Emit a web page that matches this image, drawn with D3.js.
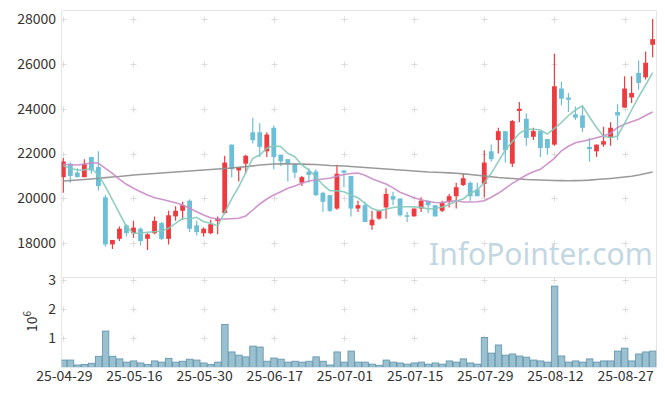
<!DOCTYPE html>
<html>
<head>
<meta charset="utf-8">
<script src="https://cdn.jsdelivr.net/npm/d3@7"></script>
<style>
  body { margin: 0; background: #fff; }
  svg { display: block; }
  .tick-label { font-family: "Noto Sans CJK KR", "Noto Sans", sans-serif; font-size: 14px; fill: #333; }
</style>
</head>
<body>
<div id="chart"></div>
<script>

// daily candles, index 0..84
var openP  = [20950,21550,21150,20950,21850,21400,20050,17950,18200,18800,
              18450,18650,18200,18450,18900,18200,19200,19450,19900,18800,
              18450,18450,19000,19350,22400,21250,21550,22950,22950,22100,
              23150,21950,21750,21550,20700,21200,21200,20250,20150,19550,
              21250,21000,19550,19700,18800,19100,19600,20100,20000,19250,
              19200,19550,19900,19700,19450,19850,20100,20600,20700,20400,
              20650,22100,22600,23000,21550,23900,23550,22750,23000,22650,
              22400,24900,24500,23750,23700,22300,22100,22400,22700,23850,
              24050,24500,25600,25400,26850];
var highP  = [21800,21600,21350,21750,21850,22100,20150,18150,18750,18850,
              19000,18700,18450,19200,18950,19450,19650,19850,19950,19000,
              18700,19050,19200,21900,22400,21400,21950,23600,23350,22950,
              23250,21950,21750,21550,21000,21350,21300,20300,20150,21500,
              21250,21000,19900,19850,19450,19500,20450,20300,20000,19400,
              19550,20050,19900,19700,19900,20200,20700,21100,20750,20700,
              22150,22400,23150,23000,23500,24300,23800,23150,23000,22650,
              26450,25200,24700,24100,24100,22700,22400,23200,23400,24200,
              25450,25450,26150,26550,28000];
var lowP   = [20250,20700,20950,20950,21100,20350,17850,17750,18100,18300,
              18250,17900,17700,18400,18150,17950,19000,19050,18500,18350,
              18300,18400,18400,19300,20950,20750,21100,22450,21850,21850,
              21300,21450,20750,20900,20550,20700,20100,19400,19400,19500,
              20500,19200,19400,18950,18600,19050,19100,19700,19200,18950,
              19200,19400,19350,19200,19400,19600,19550,20550,19900,20100,
              20050,21650,22000,21600,21400,23400,22350,22600,21850,21950,
              22350,24150,23850,23500,22950,21650,21850,22300,22350,22600,
              24050,24250,24850,25300,26300];
var closeP = [21650,21000,20950,21550,21250,20550,17950,18150,18650,18450,
              18700,18100,18400,19000,18200,19250,19450,19700,18650,18500,
              18650,18850,19100,21600,21300,21400,21900,22600,22300,22850,
              21850,21650,21550,21150,20950,21050,20150,19850,19450,21100,
              21150,19550,19700,18950,19050,19450,20200,19950,19250,19200,
              19550,19900,19700,19200,19800,20100,20500,20900,20100,20100,
              21600,21750,23000,22150,23450,24000,22700,23000,22250,22250,
              25000,24450,24400,23600,23150,22200,22400,22550,23150,23700,
              24900,24700,25150,26050,27100];

// moving average lines
var ma5  = [21460,21344,21269,21269,21344,21045,20523,19931,19338,18741,
            18447,18447,18491,18518,18549,18669,18892,19115,19084,19160,
            18964,18892,18772,19380,19980,20520,21150,21790,21937,22236,
            22352,22307,22013,21861,21491,21269,20970,20600,20346,20346,
            20301,20154,20030,19784,19552,19449,19521,19597,19632,19632,
            19625,19606,19530,19548,19619,19730,19886,19976,20230,20377,
            20702,21121,21638,22160,22530,22904,23083,23083,23052,22873,
            23127,23386,23698,23943,24130,23631,23163,22771,22717,22784,
            23350,23943,24523,25058,25606];
var ma20 = [21523,21505,21491,21523,21594,21567,21344,21121,20854,20631,
            20453,20301,20154,20034,19962,19886,19810,19708,19561,19410,
            19262,19142,19084,19084,19097,19115,19218,19485,19753,19976,
            20154,20301,20453,20556,20676,20778,20823,20867,20900,20990,
            21070,21110,21130,21030,20880,20760,20640,20470,20280,20150,
            20030,19940,19860,19820,19810,19870,19900,19842,19842,19855,
            19900,20051,20230,20453,20675,20854,21045,21193,21300,21536,
            21790,22124,22325,22481,22552,22619,22704,22784,22904,23163,
            23310,23422,23533,23698,23854];
var ma60 = [20780,20800,20820,20845,20870,20900,20930,20955,20980,21010,
            21045,21070,21090,21110,21135,21155,21180,21200,21225,21245,
            21270,21290,21310,21335,21360,21390,21420,21450,21490,21515,
            21535,21540,21540,21535,21530,21520,21510,21490,21470,21460,
            21445,21425,21400,21380,21360,21335,21310,21290,21270,21245,
            21225,21200,21180,21170,21155,21140,21120,21095,21070,21035,
            21000,20970,20935,20910,20890,20870,20845,20835,20825,20810,
            20800,20795,20790,20795,20800,20815,20845,20865,20890,20920,
            20955,20990,21045,21110,21180];

// volume in shares
var volume = [250000,250000,80000,100000,140000,380000,1250000,380000,290000,180000,
              220000,150000,100000,220000,180000,310000,180000,210000,280000,250000,
              150000,100000,180000,1480000,530000,420000,360000,730000,700000,210000,
              320000,280000,180000,210000,180000,210000,360000,210000,80000,530000,
              180000,560000,180000,180000,110000,70000,250000,180000,150000,110000,
              150000,180000,110000,150000,110000,220000,180000,290000,150000,110000,
              1030000,490000,770000,420000,460000,390000,350000,250000,220000,180000,
              2800000,390000,180000,220000,180000,290000,180000,220000,220000,560000,
              660000,220000,460000,530000,560000];

var tickIdx    = [0, 10, 20, 30, 40, 50, 60, 70, 80];
var tickLabels = ["25-04-29","25-05-16","25-05-30","25-06-17","25-07-01",
                  "25-07-15","25-07-29","25-08-12","25-08-27"];
var priceTicks = [18000, 20000, 22000, 24000, 26000, 28000];
var volTicks   = [1, 2, 3];

var w = 665, h = 396;
var pLeft = 61.5, pRight = 656.5, pTop = 10.5, pMid = 277.5, pBottom = 367.3;

var upColor = "#ee3b3f", downColor = "#6cbfd7";

var data = closeP.map(function(c, i) {
    return {i: i, o: openP[i], h: highP[i], l: lowP[i], c: c,
            ma5: ma5[i], ma20: ma20[i], ma60: ma60[i], v: volume[i] / 1e6};
});

var x = d3.scaleLinear().domain([-0.26, 84.55]).range([pLeft, pRight]);
var y = d3.scaleLinear().domain([18000, 28000]).range([243.3, 19]);
var yv = d3.scaleLinear().domain([0, 3]).range([pBottom, 280.3]);
var step = x(1) - x(0);

var svg = d3.select("#chart").append("svg")
    .attr("width", w)
    .attr("height", h);

var defs = svg.append("defs");
defs.append("clipPath").attr("id", "clipMain")
  .append("rect").attr("x", pLeft).attr("y", pTop).attr("width", pRight - pLeft).attr("height", pMid - pTop);
defs.append("clipPath").attr("id", "clipVol")
  .append("rect").attr("x", pLeft).attr("y", pMid).attr("width", pRight - pLeft).attr("height", pBottom - pMid);

// watermark
svg.append("text")
    .attr("x", 429)
    .attr("y", 265)
    .style("font-family", "'Noto Sans', 'Open Sans', sans-serif")
    .style("font-size", "30px")
    .style("fill", "#c3d7e3")
    .text("InfoPointer.com");

// grid crosses
function crosses(g, ys) {
    tickIdx.forEach(function(t) {
        ys.forEach(function(yy) {
            var cx = Math.round(x(t)) + 0.5, cy = Math.round(yy) + 0.5;
            g.append("path")
                .attr("d", "M" + (cx - 3) + "," + cy + "H" + (cx + 3) + "M" + cx + "," + (cy - 3) + "V" + (cy + 3))
                .attr("stroke", "#dcdcdc")
                .attr("stroke-width", 1);
        });
    });
}
var grid = svg.append("g");
crosses(grid, priceTicks.map(function(p) { return y(p); }));
crosses(grid, volTicks.map(function(v) { return yv(v); }));

// frame
var frame = svg.append("g").attr("stroke", "#e6e6e6").attr("fill", "none");
frame.append("path").attr("d", "M" + pLeft + "," + pBottom + "V" + pTop + "H" + pRight + "V" + pBottom);
frame.append("path").attr("d", "M" + pLeft + "," + pMid + "H" + pRight);

// volume bars
svg.append("g").attr("clip-path", "url(#clipVol)")
    .selectAll("rect")
    .data(data)
    .enter()
    .append("rect")
    .attr("x", function(d) { return x(d.i) - step / 2 + 0.5; })
    .attr("y", function(d) { return yv(d.v); })
    .attr("width", step - 0.6)
    .attr("height", function(d) { return pBottom - yv(d.v); })
    .attr("fill", "#9bc1d1")
    .attr("stroke", "#5e92aa")
    .attr("stroke-width", 0.8);

var main = svg.append("g").attr("clip-path", "url(#clipMain)");

// wicks
main.selectAll("line.wick")
    .data(data)
    .enter()
    .append("line")
    .attr("class", "wick")
    .attr("x1", function(d) { return x(d.i); })
    .attr("x2", function(d) { return x(d.i); })
    .attr("y1", function(d) { return y(d.h); })
    .attr("y2", function(d) { return y(d.l); })
    .attr("stroke", function(d) { return d.c >= d.o ? upColor : downColor; })
    .attr("stroke-width", 1.2);

// bodies
main.selectAll("rect.body")
    .data(data)
    .enter()
    .append("rect")
    .attr("class", "body")
    .attr("x", function(d) { return x(d.i) - 2.4; })
    .attr("y", function(d) { return y(Math.max(d.o, d.c)); })
    .attr("width", 4.8)
    .attr("height", function(d) { return Math.max(1.5, Math.abs(y(d.o) - y(d.c))); })
    .attr("fill", function(d) { return d.c >= d.o ? upColor : downColor; });

// moving averages
var lines = [
    {key: "ma60", color: "#8f8f8f"},
    {key: "ma20", color: "#c98bc6"},
    {key: "ma5",  color: "#86c9ba"}
];
lines.forEach(function(s) {
    var line = d3.line()
        .x(function(d) { return x(d.i); })
        .y(function(d) { return y(d[s.key]); });
    main.append("path")
        .datum(data)
        .attr("d", line)
        .attr("fill", "none")
        .attr("stroke", s.color)
        .attr("stroke-width", 1.6)
        .attr("stroke-opacity", 0.9);
});

// price axis labels
svg.selectAll("text.ylab")
    .data(priceTicks)
    .enter()
    .append("text")
    .attr("class", "tick-label")
    .attr("x", 56)
    .attr("y", function(d) { return y(d); })
    .attr("dy", "0.35em")
    .attr("text-anchor", "end")
    .text(function(d) { return d; });

// volume axis labels
svg.selectAll("text.vlab")
    .data(volTicks)
    .enter()
    .append("text")
    .attr("class", "tick-label")
    .attr("x", 56)
    .attr("y", function(d) { return yv(d); })
    .attr("dy", "0.35em")
    .attr("text-anchor", "end")
    .text(function(d) { return d; });

var expo = svg.append("text")
    .attr("class", "tick-label")
    .attr("transform", "translate(37,332) rotate(-90)")
    .attr("text-anchor", "start");
expo.append("tspan").text("10");
expo.append("tspan").attr("dy", -6).style("font-size", "10px").text("6");

// date labels
svg.selectAll("text.xlab")
    .data(tickIdx)
    .enter()
    .append("text")
    .attr("class", "tick-label")
    .attr("x", function(d) { return x(d) + 1; })
    .attr("y", 381)
    .attr("text-anchor", "middle")
    .text(function(d, k) { return tickLabels[k]; });

</script>
</body>
</html>
